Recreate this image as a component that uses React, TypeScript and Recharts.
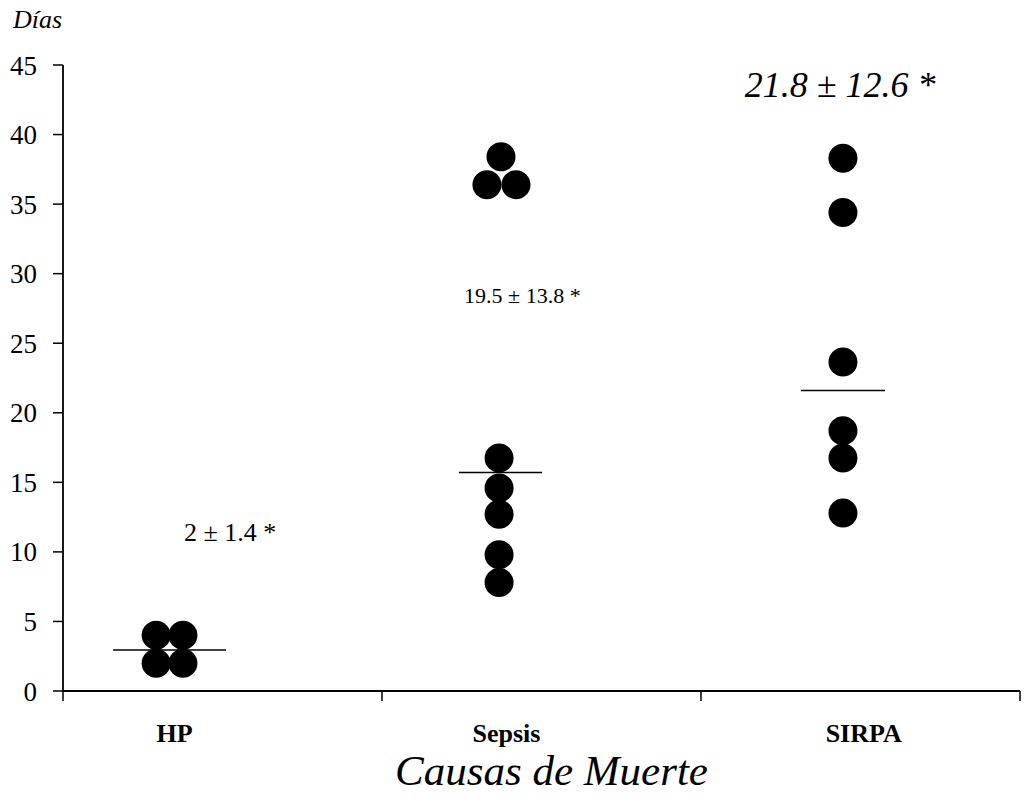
import React from 'react';
import { ComposedChart, Scatter, XAxis, YAxis, ReferenceLine, ReferenceDot } from 'recharts';

// ---- data ----
const yTicks = [0, 5, 10, 15, 20, 25, 30, 35, 40, 45];
const xTickMarks = [0, 1, 2, 3];
const categories = ['HP', 'Sepsis', 'SIRPA'];
const categoryLabelPos = [0.35, 1.39, 2.51];

const hpPoints = [
  { x: 0.292, y: 4 },
  { x: 0.376, y: 4 },
  { x: 0.292, y: 2 },
  { x: 0.376, y: 2 },
];
const sepsisPoints = [
  { x: 1.373, y: 38.4 },
  { x: 1.329, y: 36.4 },
  { x: 1.42, y: 36.4 },
  { x: 1.367, y: 16.75 },
  { x: 1.367, y: 14.6 },
  { x: 1.367, y: 12.7 },
  { x: 1.367, y: 9.8 },
  { x: 1.367, y: 7.8 },
];
const sirpaPoints = [
  { x: 2.445, y: 38.3 },
  { x: 2.445, y: 34.4 },
  { x: 2.445, y: 23.65 },
  { x: 2.445, y: 18.7 },
  { x: 2.445, y: 16.75 },
  { x: 2.445, y: 12.8 },
];
const meanLines = [
  { y: 2.95, x1: 0.157, x2: 0.511 },
  { y: 15.7, x1: 1.241, x2: 1.502 },
  { y: 21.6, x1: 2.313, x2: 2.577 },
];
const annotationTexts = ['2 ± 1.4 *', '19.5 ± 13.8 *', '21.8 ± 12.6 *'];
const annotationX = [0.524, 1.44, 2.436];
const annotationY = [11.47, 28.47, 43.64];

// ---- styles ----
const SERIF = "'Liberation Serif', 'Times New Roman', serif";
const annotationStyle = [
  { fontSize: 26, fontStyle: 'normal' },
  { fontSize: 22, fontStyle: 'normal' },
  { fontSize: 36, fontStyle: 'italic' },
];

const Dot = (props: any) => <circle cx={props.cx} cy={props.cy} r={14.5} fill="#000" />;

const XTick = (props: any) => {
  const { x, y, payload } = props;
  const ci = categoryLabelPos.indexOf(payload.value);
  if (ci >= 0) {
    return (
      <text x={x} y={y + 51} textAnchor="middle" fontFamily={SERIF} fontWeight="bold" fontSize={26} fill="#000">
        {categories[ci]}
      </text>
    );
  }
  return <line x1={x} y1={y} x2={x} y2={y + 10} stroke="#000" strokeWidth={1.5} />;
};

const YTick = (props: any) => {
  const { x, y, payload } = props;
  return (
    <text x={x} y={y} dy="0.355em" textAnchor="end" fontFamily={SERIF} fontSize={27} fill="#000">
      {payload.value}
    </text>
  );
};

export default function App() {
  return (
    <div style={{ position: 'absolute', left: 0, top: 0, width: 1028, height: 806, background: '#fff' }}>
      <ComposedChart width={1028} height={806} margin={{ top: 65, right: 8, bottom: 55, left: 0 }}>
        <XAxis
          type="number"
          dataKey="x"
          domain={[0, 3]}
          ticks={[...xTickMarks, ...categoryLabelPos]}
          interval={0}
          tickLine={false}
          tickSize={0}
          tickMargin={0}
          tick={<XTick />}
          height={60}
          axisLine={{ stroke: '#000', strokeWidth: 1.8 }}
          allowDataOverflow
          label={{
            content: (p: any) => {
              const vb = p.viewBox;
              return (
                <text x={vb.x + vb.width / 2 + 10} y={vb.y + 94} textAnchor="middle" fontFamily={SERIF} fontStyle="italic" fontSize={43} fill="#000">
                  Causas de Muerte
                </text>
              );
            },
          }}
        />
        <YAxis
          type="number"
          dataKey="y"
          domain={[0, 45]}
          ticks={yTicks}
          interval={0}
          width={63}
          tickSize={10}
          tickMargin={16}
          tick={<YTick />}
          tickLine={{ stroke: '#000', strokeWidth: 1.5 }}
          axisLine={{ stroke: '#000', strokeWidth: 1.8 }}
          allowDataOverflow
          label={{
            content: (p: any) => {
              const vb = p.viewBox;
              return (
                <text x={vb.x + 13} y={vb.y - 37} fontFamily={SERIF} fontStyle="italic" fontSize={26} fill="#000">
                  Días
                </text>
              );
            },
          }}
        />
        {meanLines.map((m, i) => (
          <ReferenceLine
            key={'m' + i}
            segment={[{ x: m.x1, y: m.y }, { x: m.x2, y: m.y }]}
            stroke="#000"
            strokeWidth={1.5}
            ifOverflow="visible"
          />
        ))}
        <Scatter data={hpPoints} shape={<Dot />} isAnimationActive={false} />
        <Scatter data={sepsisPoints} shape={<Dot />} isAnimationActive={false} />
        <Scatter data={sirpaPoints} shape={<Dot />} isAnimationActive={false} />
        {annotationTexts.map((t, i) => (
          <ReferenceDot
            key={'a' + i}
            x={annotationX[i]}
            y={annotationY[i]}
            r={0}
            fill="none"
            stroke="none"
            ifOverflow="visible"
            label={{
              value: t,
              position: 'center',
              fontFamily: SERIF,
              fontSize: annotationStyle[i].fontSize,
              fontStyle: annotationStyle[i].fontStyle,
              fill: '#000',
            }}
          />
        ))}
      </ComposedChart>
    </div>
  );
}
